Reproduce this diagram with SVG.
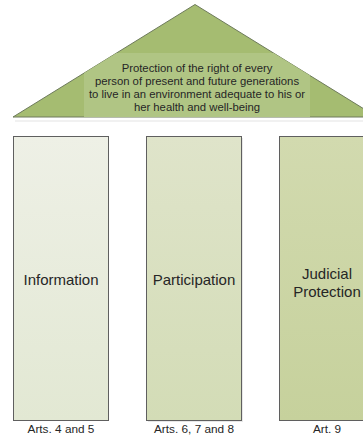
<svg xmlns="http://www.w3.org/2000/svg" width="363" height="437" viewBox="0 0 363 437">
<defs>
<style>
.t{font-family:"Liberation Sans",Arial,sans-serif;fill:#262626;text-anchor:middle}
.roof{font-size:11.3px}
.big{font-size:15px}
.sm{font-size:11.8px}
.box{stroke:#5f5f5f;stroke-width:1}
</style>
<linearGradient id="g1" x1="0" y1="0" x2="0" y2="1"><stop offset="0" stop-color="#eef0e6"/><stop offset="1" stop-color="#e2e8d3"/></linearGradient>
<linearGradient id="g2" x1="0" y1="0" x2="0" y2="1"><stop offset="0" stop-color="#dfe4ca"/><stop offset="1" stop-color="#d3dcb6"/></linearGradient>
<linearGradient id="g3" x1="0" y1="0" x2="0" y2="1"><stop offset="0" stop-color="#d2daaf"/><stop offset="1" stop-color="#c6d19c"/></linearGradient>
<clipPath id="tri"><polygon points="195,4.5 13,117 377,117"/></clipPath>
</defs>
<g id="roof">
<line x1="15" y1="121" x2="363" y2="121" stroke="#ececec" stroke-width="1.5"/>
<polygon points="195,4.5 13,117 377,117" fill="#a5bc71" stroke="#6e7b5c" stroke-width="1"/>
<rect x="84" y="53" width="226" height="64" fill="#b0c584" clip-path="url(#tri)"/>
<text class="t roof" x="197" y="72">Protection of the right of every</text>
<text class="t roof" x="197" y="85">person of present and future generations</text>
<text class="t roof" x="197" y="98">to live in an environment adequate to his or</text>
<text class="t roof" x="197" y="111">her health and well-being</text>
</g>
<g id="information">
<rect class="box" x="13.5" y="136.5" width="95" height="284" fill="url(#g1)" stroke="#454545"/>
<text class="t big" x="61" y="285">Information</text>
<text class="t sm" x="61" y="433">Arts. 4 and 5</text>
</g>
<g id="participation">
<rect x="148" y="138" width="95" height="284" fill="#e8e8e8"/>
<rect class="box" x="146.5" y="136.5" width="95" height="284" fill="url(#g2)" stroke="#7a7a7a"/>
<text class="t big" x="194" y="285">Participation</text>
<text class="t sm" x="194" y="433">Arts. 6, 7 and 8</text>
</g>
<g id="judicial">
<rect class="box" x="279.5" y="136.5" width="95" height="284" fill="url(#g3)" stroke="#7a7a7a"/>
<text class="t big" x="327" y="279">Judicial</text>
<text class="t big" x="327" y="297">Protection</text>
<text class="t sm" x="327" y="433">Art. 9</text>
</g>
<g id="connectors"/>
</svg>
